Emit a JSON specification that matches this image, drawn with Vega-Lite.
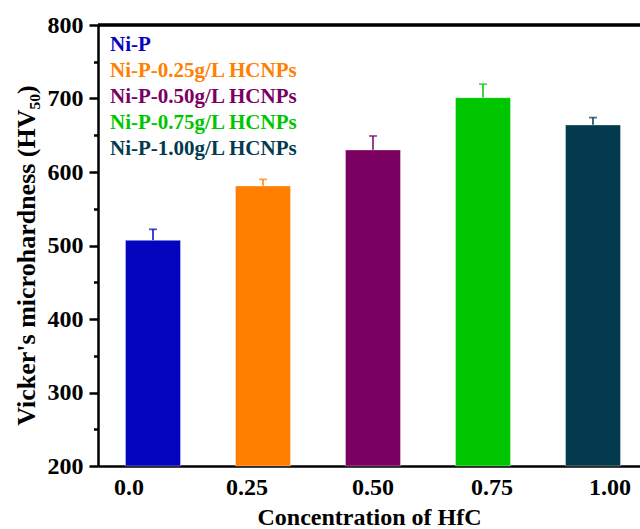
{
  "$schema": "https://vega.github.io/schema/vega-lite/v6.json",
  "autosize": {"type": "none"},
  "width": 542,
  "height": 441,
  "padding": {"left": 98, "top": 25, "right": 0, "bottom": 63},
  "background": "white",
  "config": {
    "view": {"stroke": null},
    "font": "Liberation Serif",
    "axis": {
      "labelFont": "Liberation Serif",
      "labelFontWeight": "bold",
      "labelColor": "black",
      "titleFont": "Liberation Serif",
      "titleFontWeight": "bold",
      "titleColor": "black",
      "domainColor": "black",
      "tickColor": "black",
      "grid": false
    }
  },
  "data": {
    "values": [
      {"conc": "0.0", "series": "Ni-P", "hv": 507, "hi": 522},
      {"conc": "0.25", "series": "Ni-P-0.25g/L HCNPs", "hv": 581, "hi": 590},
      {"conc": "0.50", "series": "Ni-P-0.50g/L HCNPs", "hv": 630, "hi": 649},
      {"conc": "0.75", "series": "Ni-P-0.75g/L HCNPs", "hv": 701, "hi": 719.5},
      {"conc": "1.00", "series": "Ni-P-1.00g/L HCNPs", "hv": 664, "hi": 674}
    ]
  },
  "encoding": {
    "x": {
      "field": "conc",
      "type": "nominal",
      "sort": ["0.0", "0.25", "0.50", "0.75", "1.00"],
      "scale": {"paddingInner": 0.5, "paddingOuter": 0.2136, "align": 0.585},
      "axis": {
        "title": "Concentration of HfC",
        "titleFontSize": 24,
        "titlePadding": 6,
        "labelFontSize": 24,
        "labelAngle": 0,
        "labelPadding": 9,
        "labelOffset": {
          "condition": [
            {"test": "datum.value === '0.0'", "value": -24},
            {"test": "datum.value === '0.25'", "value": -16},
            {"test": "datum.value === '0.75'", "value": 9},
            {"test": "datum.value === '1.00'", "value": 17}
          ],
          "value": 0
        },
        "ticks": false,
        "domainWidth": 2.5
      }
    },
    "y": {
      "field": "hv",
      "type": "quantitative",
      "scale": {"domain": [200, 800], "zero": false, "nice": false},
      "axis": {
        "title": "Vicker's microhardness (HV₅₀)",
        "titleFontSize": 26,
        "titlePadding": 8,
        "titleY": 230,
        "labelFontSize": 24,
        "labelPadding": 6,
        "values": [200, 250, 300, 350, 400, 450, 500, 550, 600, 650, 700, 750, 800],
        "labelExpr": "datum.value % 100 === 0 ? datum.label : ''",
        "tickSize": {"condition": {"test": "datum.value % 100 === 0", "value": 9}, "value": 4.5},
        "tickWidth": 2.5,
        "domainWidth": 2.5
      }
    },
    "color": {
      "field": "series",
      "type": "nominal",
      "scale": {
        "domain": ["Ni-P", "Ni-P-0.25g/L HCNPs", "Ni-P-0.50g/L HCNPs", "Ni-P-0.75g/L HCNPs", "Ni-P-1.00g/L HCNPs"],
        "range": ["#0505C0", "#FF7F00", "#7A0062", "#00C600", "#033A4D"]
      },
      "legend": {
        "orient": "none",
        "legendX": -9,
        "legendY": 9,
        "title": null,
        "padding": 0,
        "symbolSize": 0,
        "symbolOpacity": 0,
        "symbolStrokeWidth": 0,
        "labelOffset": 0,
        "labelFont": "Liberation Serif",
        "labelFontWeight": "bold",
        "labelFontSize": 21,
        "labelLimit": 0,
        "rowPadding": 4,
        "labelColor": {"expr": "scale('color', datum.value)"}
      }
    }
  },
  "layer": [
    {
      "mark": {"type": "rule", "strokeWidth": 1.5},
      "encoding": {
        "y2": {"field": "hi"}
      }
    },
    {
      "mark": {"type": "tick", "size": 8, "thickness": 1.8},
      "encoding": {
        "y": {"field": "hi", "type": "quantitative", "title": "Vicker's microhardness (HV₅₀)"}
      }
    },
    {
      "mark": {"type": "bar", "strokeWidth": 1, "strokeOpacity": 0.35, "stroke": "white"},
      "encoding": {
        "y2": {"datum": 200}
      }
    },
    {
      "mark": {"type": "rule", "strokeWidth": 2.5, "color": "black"},
      "encoding": {
        "x": null,
        "color": null,
        "y": {"datum": 800, "type": "quantitative"}
      }
    }
  ]
}
